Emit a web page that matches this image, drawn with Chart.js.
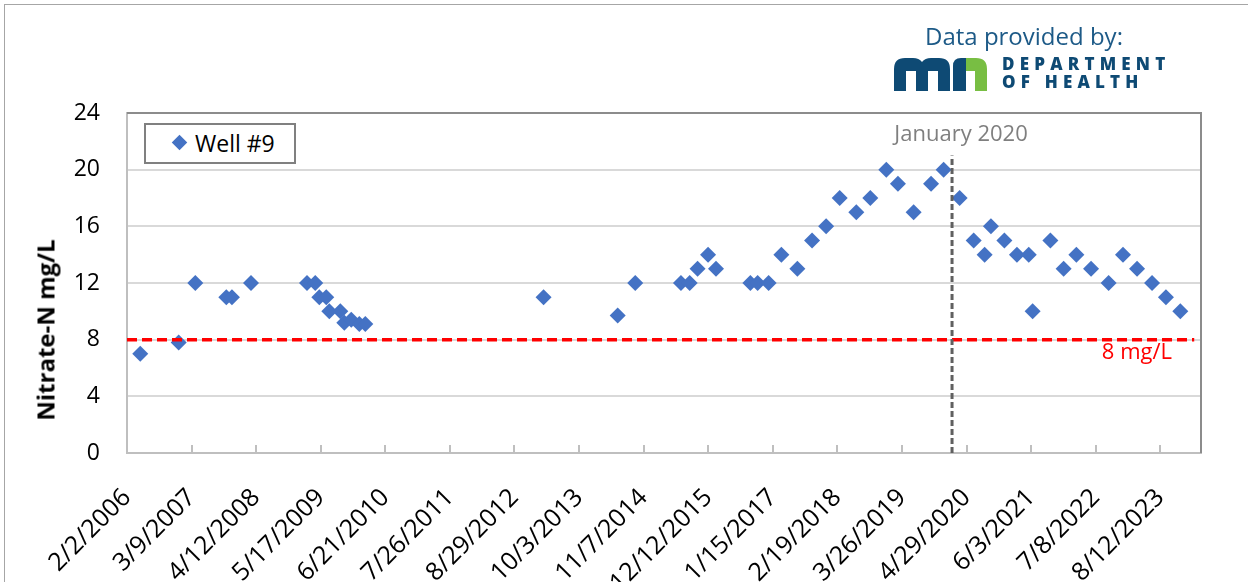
<!DOCTYPE html>
<html>
<head>
<meta charset="utf-8">
<script src="https://cdn.jsdelivr.net/npm/chart.js@4.4.0/dist/chart.umd.min.js"></script>
<style>
  body { margin: 0; background: #fff; font-family: "Open Sans", sans-serif; }
  #wrap { position: relative; width: 1248px; height: 582px; overflow: hidden; background: #fff; }
  #frame { position: absolute; left: 4px; top: 4px; width: 1270px; height: 620px; border: 1px solid #a6a6a6; box-sizing: border-box; }
  #c { position: absolute; left: 0; top: 0; }
  .legend { position: absolute; left: 144px; top: 123px; width: 152px; height: 41px; border: 2px solid #808080; box-sizing: border-box; background: #fff; }
  .legend .mark { position: absolute; left: 28px; top: 12px; width: 11px; height: 11px; background: #4472c4; transform: rotate(45deg); }
  .legend .txt { position: absolute; left: 49px; top: 0; font-size: 23px; line-height: 36px; color: #000; white-space: nowrap; }
  .ytitle { position: absolute; left: 45px; top: 330px; transform: translate(-50%, -50%) rotate(-90deg); font-weight: bold; font-size: 24px; white-space: nowrap; color: #000; }
  .provided { position: absolute; left: 925px; top: 21px; font-size: 24px; line-height: 30px; color: #1d5a87; white-space: nowrap; }
  .logo { position: absolute; left: 894px; top: 58px; }
  .dept { position: absolute; left: 1002px; top: 55px; font-size: 17px; line-height: 18px; font-weight: 800; letter-spacing: 5.2px; color: #0e4a74; white-space: nowrap; }
</style>
</head>
<body>
<div id="wrap">
  <div id="frame"></div>
  <canvas id="c" width="1248" height="582"></canvas>
  <div class="legend"><span class="mark"></span><span class="txt">Well #9</span></div>
  <div class="ytitle">Nitrate-N mg/L</div>
  <div class="provided">Data provided by:</div>
  <svg class="logo" width="93" height="33" viewBox="0 0 93 33">
    <path fill="#0e4a74" d="M0,33 V11 Q0,0 11,0 H19 Q25,0 28,4 Q31,0 37,0 H45 Q56,0 56,11 V33 H44 V13 H34 V33 H22 V13 H12 V33 Z"/>
    <path fill="#0e4a74" d="M59,33 V8 Q59,0 67,0 H72 V33 Z"/>
    <path fill="#78be43" d="M72,0 H82 Q93,0 93,11 V33 H81 V13 H72 Z"/>
  </svg>
  <div class="dept">DEPARTMENT<br>OF HEALTH</div>
</div>
<script>
// sample dates and nitrate results for Well #9
const sampleDates = [
  '2006-04-25', '2006-12-19', '2007-04-01', '2007-10-10', '2007-11-14', '2008-03-11',
  '2009-02-21', '2009-04-13', '2009-05-08', '2009-06-20', '2009-07-09', '2009-09-15',
  '2009-10-10', '2009-11-22', '2010-01-11', '2010-02-17',
  '2013-02-25', '2014-05-30', '2014-09-16', '2015-06-26', '2015-08-19', '2015-10-07',
  '2015-12-11', '2016-01-29', '2016-08-29', '2016-10-13', '2016-12-20', '2017-03-09',
  '2017-06-16', '2017-09-15', '2017-12-11', '2018-03-05', '2018-06-16', '2018-09-11',
  '2018-12-19', '2019-03-01', '2019-06-06', '2019-09-22', '2019-12-09',
  '2020-03-17', '2020-06-12', '2020-08-19', '2020-09-27', '2020-12-19', '2021-03-07',
  '2021-05-19', '2021-06-12', '2021-09-30', '2021-12-21', '2022-03-10', '2022-06-09',
  '2022-09-26', '2022-12-24', '2023-03-21', '2023-06-22', '2023-09-16', '2023-12-14'
];
const nitrate = [
  7, 7.8, 12, 11, 11, 12,
  12, 12, 11, 11, 10, 10,
  9.2, 9.4, 9.1, 9.1,
  11, 9.7, 12, 12, 12, 13,
  14, 13, 12, 12, 12, 14,
  13, 15, 16, 18, 17, 18,
  20, 19, 17, 19, 20,
  18, 15, 14, 16, 15, 14,
  14, 10, 15, 13, 14, 13,
  12, 14, 13, 12, 11, 10
];
const tickLabels = [
  '2/2/2006', '3/9/2007', '4/12/2008', '5/17/2009', '6/21/2010', '7/26/2011',
  '8/29/2012', '10/3/2013', '11/7/2014', '12/12/2015', '1/15/2017', '2/19/2018',
  '3/26/2019', '4/29/2020', '6/3/2021', '7/8/2022', '8/12/2023'
];
const axisRange = ['2006-02-02', '2024-04-20'];
const yTicks = [0, 4, 8, 12, 16, 20, 24];

const limitValue = 8;
const limitDates = ['2006-02-02', '2024-03-09'];
const limitNote = '8 mg/L';

const markerDate = '2020-01-30';
const markerSpan = [0, 21];
const markerNote = 'January 2020';

const isoDay = s => { const [y, m, d] = s.split('-').map(Number); return Date.UTC(y, m - 1, d) / 864e5; };
const usDay = s => { const [m, d, y] = s.split('/').map(Number); return Date.UTC(y, m - 1, d) / 864e5; };

const wellPoints = sampleDates.map((d, i) => ({ x: isoDay(d), y: nitrate[i] }));
const limitPoints = limitDates.map(d => ({ x: isoDay(d), y: limitValue }));
const markerPoints = markerSpan.map(v => ({ x: isoDay(markerDate), y: v }));
const tickDays = tickLabels.map(usDay);

const tickFont = { family: '"Open Sans", sans-serif', size: 23 };

const extras = {
  id: 'extras',
  afterDraw(chart) {
    const { ctx, chartArea: a, scales: { x, y } } = chart;
    ctx.save();
    // plot frame, top and right
    ctx.strokeStyle = '#8c8c8c';
    ctx.lineWidth = 2;
    ctx.beginPath();
    ctx.moveTo(a.left, a.top);
    ctx.lineTo(a.right, a.top);
    ctx.lineTo(a.right, a.bottom);
    ctx.stroke();
    // tick marks point up into the plot
    ctx.strokeStyle = '#bfbfbf';
    ctx.beginPath();
    tickDays.forEach((v, i) => {
      if (!i) return;
      const px = Math.round(x.getPixelForValue(v));
      ctx.moveTo(px, a.bottom);
      ctx.lineTo(px, a.bottom - 8);
    });
    ctx.stroke();
    ctx.textBaseline = 'middle';
    ctx.font = '22px "Open Sans", sans-serif';
    ctx.fillStyle = '#7f7f7f';
    ctx.textAlign = 'center';
    ctx.fillText(markerNote, x.getPixelForValue(isoDay(markerDate)) + 9, a.top + 22);
    ctx.fillStyle = '#ff0000';
    ctx.textAlign = 'right';
    ctx.fillText(limitNote, a.right - 29, y.getPixelForValue(limitValue) + 13);
    ctx.restore();
  }
};

new Chart(document.getElementById('c'), {
  type: 'scatter',
  data: {
    datasets: [
      {
        label: 'Well #9',
        data: wellPoints,
        pointStyle: 'rectRot',
        pointRadius: 8,
        backgroundColor: '#4472c4',
        borderColor: '#4472c4',
        borderWidth: 0,
        order: 2
      },
      {
        type: 'line',
        label: limitNote,
        data: limitPoints,
        borderColor: '#ff0000',
        borderWidth: 3.5,
        borderDash: [10, 5],
        pointRadius: 0,
        order: 1
      },
      {
        type: 'line',
        label: markerNote,
        data: markerPoints,
        borderColor: '#606060',
        borderWidth: 3,
        borderDash: [6, 3],
        pointRadius: 0,
        order: 0
      }
    ]
  },
  options: {
    responsive: false,
    animation: false,
    layout: { padding: { top: 113, right: 47, left: 0, bottom: 0 } },
    plugins: { legend: { display: false }, tooltip: { enabled: false } },
    scales: {
      x: {
        type: 'linear',
        min: isoDay(axisRange[0]),
        max: isoDay(axisRange[1]),
        afterFit: s => { s.height = 129; },
        afterBuildTicks: s => { s.ticks = tickDays.map(v => ({ value: v })); },
        ticks: {
          autoSkip: false,
          minRotation: 45,
          maxRotation: 45,
          padding: 30,
          font: { family: '"Open Sans", sans-serif', size: 25 },
          color: '#000',
          callback: (v, i) => tickLabels[i]
        },
        grid: { display: true, drawOnChartArea: false, drawTicks: false },
        border: { color: '#bfbfbf', width: 2 }
      },
      y: {
        min: yTicks[0],
        max: yTicks[yTicks.length - 1],
        afterFit: s => { s.width = 127; },
        afterBuildTicks: s => { s.ticks = yTicks.map(v => ({ value: v })); },
        ticks: { padding: 27, font: tickFont, color: '#000' },
        grid: { color: '#d9d9d9', lineWidth: 2, drawTicks: false },
        border: { color: '#bfbfbf', width: 2 }
      }
    }
  },
  plugins: [extras]
});
</script>
</body>
</html>
